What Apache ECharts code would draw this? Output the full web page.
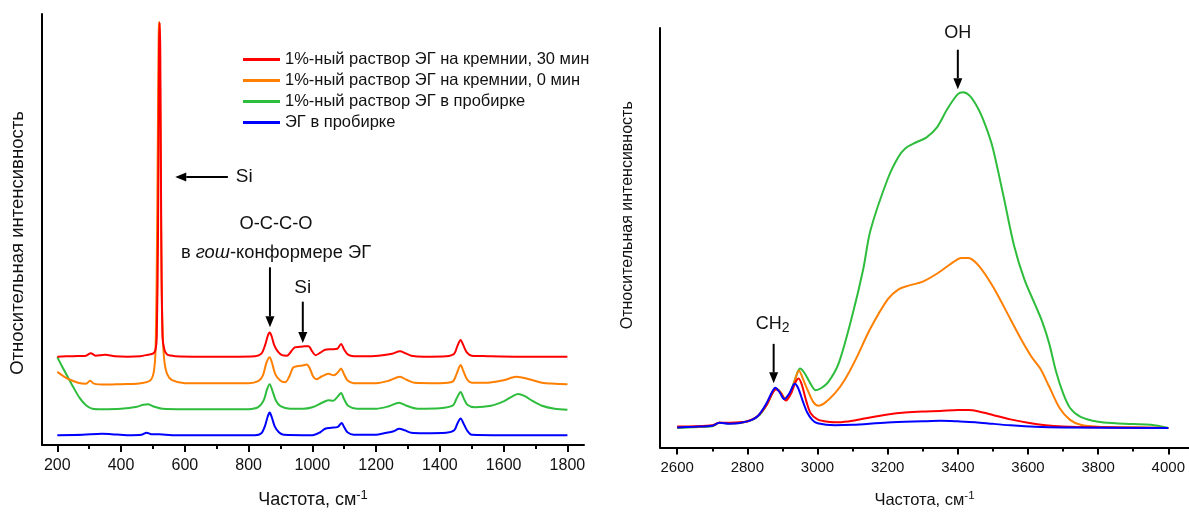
<!DOCTYPE html>
<html><head><meta charset="utf-8">
<script src="https://cdn.jsdelivr.net/npm/echarts@6/dist/echarts.min.js"></script>
<style>html,body{margin:0;padding:0;background:#fff}#c{width:1189px;height:514px}</style>
</head><body><div id="c"></div>
<script>
const seriesNames = ['1%-ный раствор ЭГ на кремнии, 30 мин','1%-ный раствор ЭГ на кремнии, 0 мин','1%-ный раствор ЭГ в пробирке','ЭГ в пробирке'];
const lineColors = ['#ff0000','#ff7f00','#2ebd3c','#0000ff'];

const lowTicks = [200,400,600,800,1000,1200,1400,1600,1800];
const lowMinor = [300,500,700,900,1100,1300,1500,1700];
const highTicks = [2600,2800,3000,3200,3400,3600,3800,4000];
const highMinor = [2700,2900,3100,3300,3500,3700,3900];

const lowRed = [[200,90],[250,90.5],[290,91],[305,93.5],[320,91],[350,92],[380,90.5],[420,90],[460,90.5],[485,92],[500,93],[508,97],[512,110],[516,220],[519,400],[521,430],[523,400],[526,220],[530,110],[536,97],[545,92],[570,90.5],[650,90],[750,90],[820,90.5],[840,93],[852,102],[860,111],[866,114.5],[872,111],[880,102],[892,95],[905,91.5],[920,91],[935,96],[945,99.5],[960,100],[975,100.5],[988,100.5],[1000,95],[1010,91.5],[1025,94],[1040,97],[1060,97.5],[1078,98],[1090,103],[1100,97],[1112,92],[1130,90.5],[1180,90.5],[1220,91.5],[1250,93],[1275,95.5],[1292,93.5],[1310,91],[1350,90],[1420,90.5],[1445,93],[1455,101],[1465,107],[1473,102],[1485,94],[1500,91],[1550,90.5],[1650,90],[1800,90]];
const lowOrange = [[200,74.5],[220,70],[240,66.5],[265,63.5],[290,62.5],[303,65.5],[315,62.5],[350,61.5],[400,62],[450,62.5],[480,64],[495,67],[503,75],[508,95],[512,180],[515,300],[518,420],[519.5,431],[521,420],[524,300],[527,170],[531,110],[536,85],[545,72],[560,66],[600,63],[700,63],[800,63],[830,65],[845,71],[856,84],[866,89.5],[874,83],[884,72],[900,65.5],[915,64],[928,70],[940,79],[955,80.5],[970,81],[982,82],[992,78],[1002,70],[1012,67],[1030,70],[1050,72.5],[1068,71],[1080,74],[1090,78],[1098,73],[1110,66],[1130,63],[1200,63],[1240,65.5],[1275,69.5],[1295,66.5],[1320,63.5],[1400,63],[1440,64.5],[1452,72],[1465,81.5],[1474,75],[1485,67],[1500,63.5],[1550,63.5],[1600,66],[1640,69.5],[1680,67],[1720,63.5],[1760,62.5],[1800,62]];
const lowGreen = [[200,89.5],[215,80],[230,71],[250,59],[270,48],[290,40.5],[310,37],[340,36.5],[400,37],[450,39],[470,41],[485,41.5],[500,39.5],[530,37],[600,36.5],[700,36.5],[800,36.5],[830,38.5],[848,46],[858,57],[866,62],[874,56],[886,45],[900,39.5],[930,37],[970,37],[1000,38.5],[1030,43],[1050,45.5],[1065,45],[1080,49.5],[1090,53],[1099,47],[1112,40],[1140,37],[1200,37],[1240,39.5],[1272,43],[1295,40],[1330,37],[1400,37.5],[1440,40],[1452,47],[1465,54],[1474,48],[1486,41],[1510,38.5],[1560,40],[1600,44.5],[1630,50],[1645,52],[1665,50],[1690,45],[1720,40],[1760,37],[1800,36]];
const lowBlue = [[200,10],[280,10.5],[340,11.5],[370,11],[420,10],[465,10.5],[480,12.5],[495,11],[520,11],[560,10],[700,10],[820,10],[840,12],[852,20],[860,29],[866,33],[873,28],[882,19],[895,13],[910,10.5],[1000,10],[1025,13],[1040,16.5],[1060,17.5],[1080,18.5],[1092,22.5],[1100,18],[1110,13],[1130,10.5],[1200,10.5],[1225,12],[1255,14],[1272,16.5],[1290,15],[1310,12.5],[1350,12],[1420,12.5],[1445,15],[1455,22],[1465,27],[1474,22],[1485,15],[1500,10.5],[1600,10],[1800,10]];

const highRed = [[2600,21.3],[2650,21.5],[2700,22.5],[2720,25],[2750,25],[2800,26.5],[2830,32],[2855,43],[2870,54],[2882,59],[2895,55],[2910,47.5],[2925,55],[2937,66],[2946,70],[2955,64],[2968,47],[2980,35],[3000,28.5],[3030,26],[3060,25.5],[3100,27],[3150,30.5],[3200,33.5],[3250,35.5],[3300,36.5],[3350,37],[3400,38],[3430,38],[3460,36.5],[3500,33],[3550,28.5],[3600,25],[3650,22.5],[3700,21.3],[3800,20.5],[4000,19.7]];
const highOrange = [[2600,20.5],[2700,22],[2720,25],[2750,24.5],[2800,26.3],[2830,32],[2855,44],[2870,55],[2882,59.5],[2895,56],[2910,48.5],[2925,56],[2937,70],[2947,78],[2958,70],[2972,58],[2988,46],[3003,42.3],[3020,45],[3050,55],[3080,70],[3110,90],[3150,120],[3200,150],[3230,160],[3260,164],[3300,168],[3340,176],[3380,186],[3410,192],[3430,192],[3460,184],[3500,163],[3550,130],[3580,110],[3610,92],[3635,80],[3660,62],[3690,40],[3720,28],[3750,23],[3800,21],[3900,20.5],[4000,19.7]];
const highGreen = [[2600,19.7],[2650,20.5],[2700,21.5],[2720,25],[2740,24.5],[2780,25],[2810,27.5],[2835,33],[2855,43],[2870,54],[2880,59],[2890,58],[2900,52],[2910,49],[2922,55],[2935,68],[2950,80],[2962,76],[2978,66],[2995,58],[3010,60],[3030,66],[3060,85],[3100,135],[3130,180],[3151,220],[3200,272],[3230,294],[3250,303],[3280,309],[3310,314],[3340,324],[3370,343],[3400,358],[3415,360],[3435,356],[3460,342],[3480,325],[3500,303],[3530,255],[3560,205],[3590,170],[3620,145],[3640,128],[3660,106],[3680,77],[3700,55],[3720,40],[3750,31],[3800,26],[3850,24.5],[3900,23.7],[3950,23],[4000,19.7]];
const highBlue = [[2600,20.3],[2650,21],[2700,22],[2720,25],[2750,24],[2800,26.5],[2830,32],[2855,45],[2870,56],[2880,60.5],[2892,56],[2905,49],[2920,55],[2935,64.5],[2945,60],[2958,47],[2970,36],[2985,28],[3000,24.5],[3050,22.5],[3100,23],[3200,25.3],[3300,26.5],[3350,27],[3400,26.5],[3450,25.7],[3500,24],[3550,22.5],[3620,21],[3700,20.3],[4000,19.7]];

// annotations in data coordinates of each panel
const notes = [
  {grid:0, at:[760,273], text:'Si', align:'left', size:19, arrow:[[735,273],[570,273]]},
  {grid:0, at:[886,225], text:'O-C-C-O', align:'center', size:18.3},
  {grid:0, at:[886,196], text:'{n|в }{i|гош}{n|-конформере ЭГ}', align:'center', size:18.3, arrow:[[867,181],[867,120]]},
  {grid:0, at:[970,160], text:'Si', align:'center', size:19, arrow:[[970,146],[970,104]]},
  {grid:1, at:[3400,420], text:'OH', align:'center', size:18, arrow:[[3400,403],[3400,363]]},
  {grid:1, at:[2872,125], text:'{n|CH}{s|2}', align:'center', size:18, arrow:[[2875,105],[2875,65]]}
];

const FONT = '"Liberation Sans", Arial, sans-serif';
const chart = echarts.init(document.getElementById('c'), null, {renderer:'canvas'});

function mkSeries(name, data, color, gi, z) {
  return {name, type:'line', data, xAxisIndex:gi, yAxisIndex:gi, symbol:'none', showSymbol:false,
    smooth:0.3, z, lineStyle:{color, width:2}, itemStyle:{color}, emphasis:{disabled:true}, animation:false};
}
function mainX(gi, min, max, ticks, fs, nfs, nameGap) {
  return {gridIndex:gi, type:'value', min, max, position:'bottom',
    axisLine:{onZero:false, lineStyle:{color:'#000', width:2}},
    axisTick:{customValues:ticks, length:7, lineStyle:{color:'#000', width:2}},
    axisLabel:{customValues:ticks, fontSize:fs, color:'#111', fontFamily:FONT, margin:13, formatter:v => String(v)},
    splitLine:{show:false},
    name:'{n|Частота, см}{s|-1}', nameLocation:'middle', nameGap,
    nameTextStyle:{rich:{n:{fontSize:nfs, fontFamily:FONT, color:'#111', lineHeight:22}, s:{fontSize:nfs-5, fontFamily:FONT, color:'#111', lineHeight:12, verticalAlign:'top'}}}
  };
}
function minorX(gi, min, max, ticks) {
  return {gridIndex:gi, type:'value', min, max, position:'bottom',
    axisLine:{show:false, onZero:false}, axisTick:{customValues:ticks, length:4, lineStyle:{color:'#000', width:2}},
    axisLabel:{show:false}, splitLine:{show:false}};
}
function mainY(gi, max, fs, gap, pad) {
  return {gridIndex:gi, type:'value', min:0, max,
    axisLine:{show:true, lineStyle:{color:'#000', width:2}}, axisTick:{show:false}, axisLabel:{show:false}, splitLine:{show:false},
    name:'Относительная интенсивность', nameLocation:'middle', nameGap:gap,
    nameTextStyle:{fontSize:fs, fontFamily:FONT, color:'#111', padding:pad}};
}

chart.setOption({
  animation:false,
  backgroundColor:'#fff',
  grid:[{left:42, top:14, width:542, height:439}, {left:660, top:28, right:0, height:425}],
  xAxis:[mainX(0,152,1852,lowTicks,16,18,44), mainX(1,2551,4059,highTicks,15,16.5,42), minorX(0,152,1852,lowMinor), minorX(1,2551,4059,highMinor)],
  yAxis:[mainY(0,439,18.5,15,[0,27,0,0]), mainY(1,425,16,24,[0,0,0,45])],
  legend:{orient:'vertical', left:238, top:46, data:seriesNames, icon:'rect', itemWidth:37, itemHeight:3, itemGap:4,
    textStyle:{fontSize:16.5, fontFamily:FONT, color:'#111', lineHeight:16}, selectedMode:false},
  series:[
    mkSeries(seriesNames[3], lowBlue, lineColors[3], 0, 2),
    mkSeries(seriesNames[2], lowGreen, lineColors[2], 0, 3),
    mkSeries(seriesNames[1], lowOrange, lineColors[1], 0, 4),
    mkSeries(seriesNames[0], lowRed, lineColors[0], 0, 5),
    mkSeries(seriesNames[2], highGreen, lineColors[2], 1, 2),
    mkSeries(seriesNames[1], highOrange, lineColors[1], 1, 3),
    mkSeries(seriesNames[0], highRed, lineColors[0], 1, 4),
    mkSeries(seriesNames[3], highBlue, lineColors[3], 1, 5)
  ]
});

const els = [];
notes.forEach(nt => {
  const p = chart.convertToPixel({gridIndex:nt.grid}, nt.at);
  els.push({type:'text', x:p[0], y:p[1], z:100, style:{text:nt.text, align:nt.align, verticalAlign:'middle',
    fontSize:nt.size, fontFamily:FONT, fill:'#111',
    rich:{n:{fontSize:nt.size, fontFamily:FONT, fill:'#111', lineHeight:22},
          i:{fontSize:nt.size, fontFamily:FONT, fontStyle:'italic', fill:'#111', lineHeight:22},
          s:{fontSize:nt.size-4, fontFamily:FONT, fill:'#111', lineHeight:12, verticalAlign:'bottom'}}}});
  if (nt.arrow) {
    const a = chart.convertToPixel({gridIndex:nt.grid}, nt.arrow[0]);
    const b = chart.convertToPixel({gridIndex:nt.grid}, nt.arrow[1]);
    const dx = b[0]-a[0], dy = b[1]-a[1], L = Math.hypot(dx,dy), ux = dx/L, uy = dy/L;
    const hl = 11, hw = 4.5;
    const base = [b[0]-ux*hl, b[1]-uy*hl];
    els.push({type:'line', z:100, shape:{x1:a[0], y1:a[1], x2:base[0], y2:base[1]}, style:{stroke:'#000', lineWidth:2}});
    els.push({type:'polygon', z:100, shape:{points:[[b[0],b[1]],[base[0]-uy*hw, base[1]+ux*hw],[base[0]+uy*hw, base[1]-ux*hw]]}, style:{fill:'#000'}});
  }
});
chart.setOption({graphic:{elements:els}});
</script>
</body></html>
